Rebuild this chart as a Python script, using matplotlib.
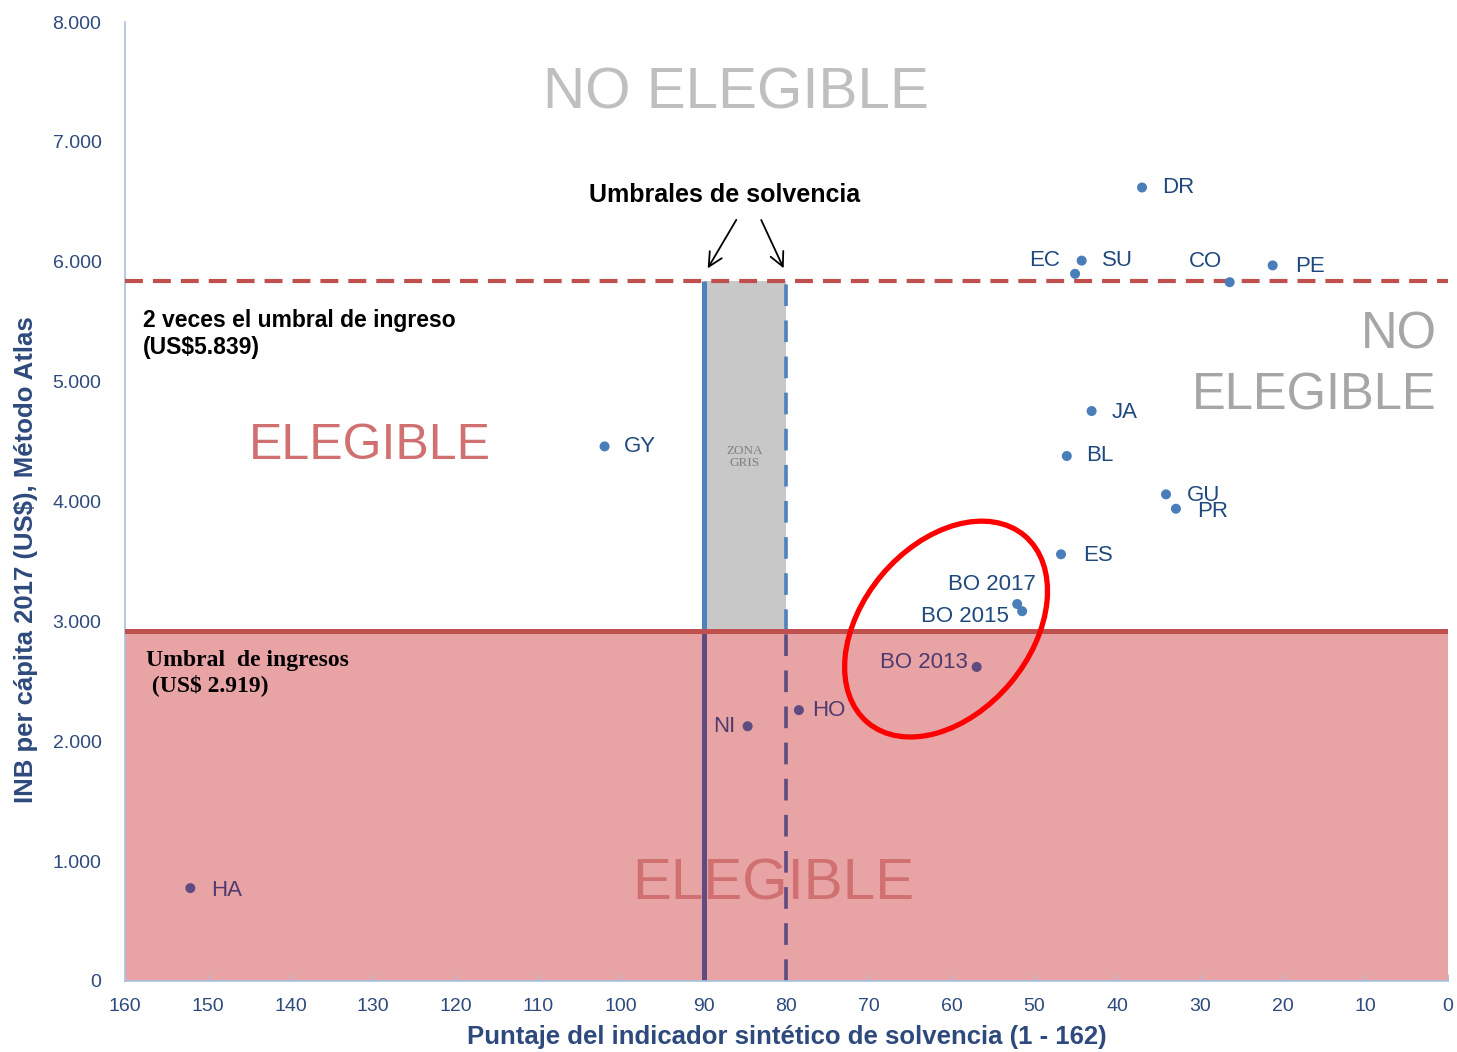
import numpy as np
import matplotlib
matplotlib.use("Agg")
import matplotlib.pyplot as plt
from matplotlib.patches import Ellipse, Rectangle
from matplotlib.transforms import ScaledTranslation
from matplotlib.ticker import FuncFormatter, MultipleLocator

plt.rcParams['font.family'] = ['Liberation Sans', 'DejaVu Sans']

# Países: puntaje del indicador sintético de solvencia vs INB per cápita 2017
paises = ['DR', 'EC', 'SU', 'CO', 'PE', 'JA', 'BL', 'GU', 'PR', 'ES',
          'BO 2017', 'BO 2015', 'BO 2013', 'HO', 'NI', 'GY', 'HA']
puntaje = np.array([37.0, 45.1, 44.3, 26.4, 21.2, 43.1, 46.1, 34.1, 32.9, 46.8,
                    52.1, 51.5, 57.0, 78.5, 84.7, 102.0, 152.1])
inb = np.array([6620, 5900, 6010, 5830, 5970, 4755, 4380, 4060, 3940, 3560,
                3145, 3085, 2620, 2260, 2125, 4460, 775])
# desplazamiento de cada etiqueta (pixeles) y alineación
offs = [(20, 0, 'left'), (-15, 13, 'right'), (20, 0, 'left'), (-8, 21, 'right'),
        (22, -1, 'left'), (20, -1, 'left'), (19, 0, 'left'), (21, -1, 'left'),
        (21, -3, 'left'), (22, -1, 'left'), (19, 20, 'right'), (-13, -5, 'right'),
        (-9, 4, 'right'), (13, 0, 'left'), (-12, 0, 'right'), (19, 0, 'left'),
        (21, -2, 'left')]

umbral_ingreso = 2919
umbral_doble = 5839
umbral_solv_1 = 90
umbral_solv_2 = 80

azul = '#4A7EBB'
azul_osc = '#1F497D'
morado = '#5E4B80'
rojo = '#C0504D'
rosa = '#E8A3A5'

fig = plt.figure(figsize=(14.57, 10.52), dpi=100)
ax = fig.add_axes([0.0858, 0.0675, 0.908, 0.9115])
ax.set_xlim(160, 0)
ax.set_ylim(0, 8000)

# zonas
ax.add_patch(Rectangle((160, 0), -160, umbral_ingreso, color=rosa, zorder=0, lw=0))
ax.add_patch(Rectangle((umbral_solv_1, umbral_ingreso), umbral_solv_2 - umbral_solv_1,
                       umbral_doble - umbral_ingreso, color='#C8C8C8', zorder=0, lw=0))

# umbrales de solvencia
ax.vlines(umbral_solv_1, 0, umbral_ingreso, color=morado, lw=3.6, zorder=2)
ax.vlines(umbral_solv_1, umbral_ingreso, umbral_doble, color='#4F81BD', lw=3.6, zorder=2)
ax.plot([umbral_solv_2, umbral_solv_2], [0, umbral_ingreso], color=morado, lw=2.6,
        dashes=(6, 4), zorder=2)
ax.plot([umbral_solv_2, umbral_solv_2], [umbral_ingreso, umbral_doble], color='#4F81BD',
        lw=2.6, dashes=(6, 4), zorder=2)

# umbrales de ingreso
ax.axhline(umbral_doble, color=rojo, lw=3, dashes=(4.3, 2.4), zorder=3)
ax.axhline(umbral_ingreso, color=rojo, lw=3.6, zorder=3)

# puntos
dentro = inb < umbral_ingreso
cols = np.where(dentro, morado, azul)
ax.scatter(puntaje, inb, s=52, c=cols, zorder=4, linewidths=0)
for p, x, y, (dx, dy, ha), d in zip(paises, puntaje, inb, offs, dentro):
    ax.annotate(p, (x, y), xytext=(dx, dy), textcoords='offset pixels',
                ha=ha, va='center', fontsize=16,
                color='#4E3A6E' if d else azul_osc, zorder=5)

# textos de zona
ax.text(0.462, 0.926, 'NO ELEGIBLE', transform=ax.transAxes, ha='center',
        va='center', fontsize=42, color='#BFBFBF')
ax.text(0.9917, 0.642, 'NO\nELEGIBLE', transform=ax.transAxes, ha='right',
        va='center', fontsize=36.5, color='#A6A6A6', multialignment='right',
        linespacing=1.3)
ax.text(0.185, 0.558, 'ELEGIBLE', transform=ax.transAxes, ha='center',
        va='center', fontsize=36, color='#D07070')
ax.text(0.490, 0.101, 'ELEGIBLE', transform=ax.transAxes, ha='center',
        va='center', fontsize=42, color='#D07070', zorder=1)
ax.text(0.4686, 0.546, 'ZONA\nGRIS', transform=ax.transAxes, ha='center',
        va='center', fontsize=9.5, color='#808080', family='Liberation Serif',
        linespacing=1.0)

ax.text(0.0136, 0.675, '2 veces el umbral de ingreso\n(US$5.839)',
        transform=ax.transAxes, ha='left', va='center', fontsize=16.5,
        fontweight='bold', color='black', linespacing=1.2)
ax.text(0.0159, 0.321, 'Umbral  de ingresos\n (US$ 2.919)',
        transform=ax.transAxes, ha='left', va='center', fontsize=17,
        fontweight='bold', color='black', family='Liberation Serif',
        linespacing=1.2)

ax.text(0.4535, 0.8196, 'Umbrales de solvencia', transform=ax.transAxes,
        ha='center', va='center', fontsize=18, fontweight='bold', color='black')
for x0, x1 in [(85.9, umbral_solv_1 - 0.3), (83.2, umbral_solv_2 + 0.2)]:
    ax.annotate('', xy=(x1, 5925), xytext=(x0, 6370),
                arrowprops=dict(arrowstyle='->,head_length=1.0,head_width=0.5',
                                color='black', lw=1.3))

# círculo sobre Bolivia
tr = fig.dpi_scale_trans + ScaledTranslation(60.7, 2936, ax.transData)
ax.add_patch(Ellipse((0, 0), 2.44, 1.68, angle=50, transform=tr, fill=False,
                     edgecolor='#FF0000', lw=3.8, zorder=6))

# ejes
for s in ['top', 'right']:
    ax.spines[s].set_visible(False)
for s in ['left', 'bottom']:
    ax.spines[s].set_color('#A6C0E0')
    ax.spines[s].set_linewidth(1.2)
ax.xaxis.set_major_locator(MultipleLocator(10))
ax.yaxis.set_major_locator(MultipleLocator(1000))
ax.yaxis.set_major_formatter(FuncFormatter(lambda v, p: f'{v:,.0f}'.replace(',', '.')))
ax.tick_params(axis='x', direction='in', length=5, color='#A6C0E0',
               labelsize=14, labelcolor='#2E4A7D', pad=12)
ax.tick_params(axis='y', length=0, labelsize=14, labelcolor='#2E4A7D', pad=17)

ax.set_xlabel('Puntaje del indicador sintético de solvencia (1 - 162)',
              fontsize=18.5, fontweight='bold', color='#2E4A7D')
ax.set_ylabel('INB per cápita 2017 (US$), Método Atlas',
              fontsize=18.5, fontweight='bold', color='#2E4A7D')
ax.xaxis.set_label_coords(0.5, -0.046)
ax.yaxis.set_label_coords(-0.066, 0.439)

fig.savefig('out.png', dpi=100)
